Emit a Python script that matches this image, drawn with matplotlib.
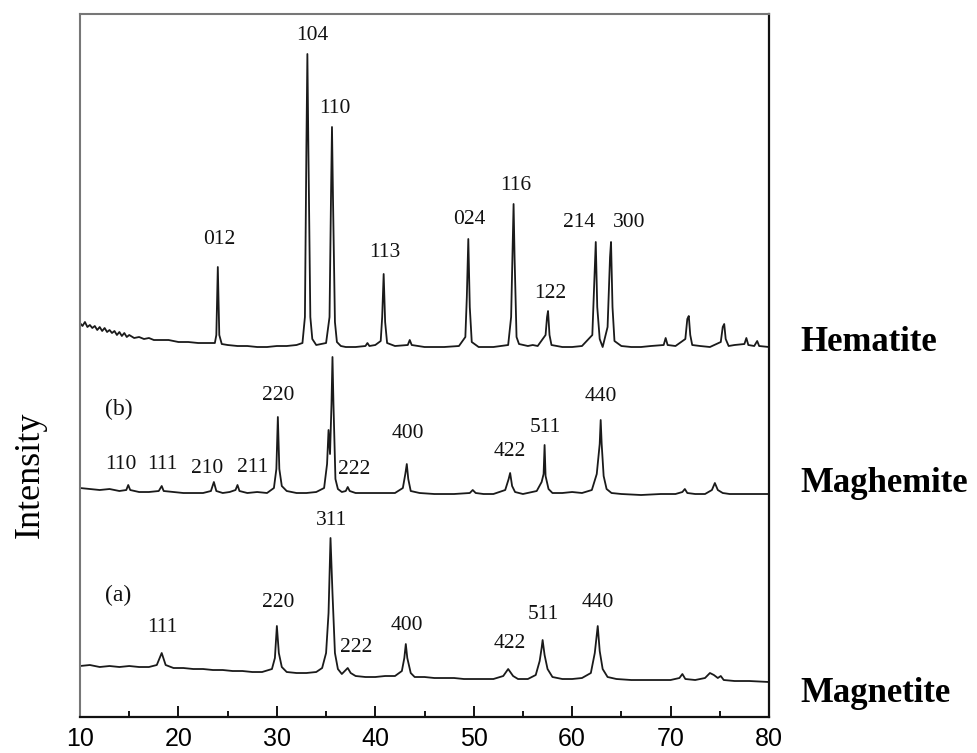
import matplotlib
matplotlib.use("Agg")
import matplotlib.pyplot as plt

# traces: 2-theta (deg) and intensity above each pattern's own baseline (a.u.)
hem_x = [10.0, 10.25, 10.5, 10.75, 11.0, 11.25, 11.5, 11.75, 12.0, 12.25, 12.5, 12.75, 13.0, 13.25, 13.5,
         13.75, 14.0, 14.25, 14.5, 14.75, 15.0, 15.5, 16.0, 16.5, 17.0, 17.5, 18.0, 19.0,
         20.0, 21.0, 22.0, 23.0, 23.7, 23.85, 24.0, 24.15, 24.4, 25.0, 26.0, 27.0, 28.0, 29.0, 30.0, 31.0,
         32.0, 32.6, 32.85, 33.0, 33.1, 33.2, 33.4, 33.6, 34.0, 34.5, 35.0, 35.35, 35.5, 35.6, 35.7, 35.9,
         36.1, 36.5, 37.0, 38.0, 39.0, 39.2, 39.4, 40.0, 40.55, 40.7, 40.85, 41.0, 41.2, 42.0, 43.3, 43.5,
         43.7, 45.0, 47.0, 48.5, 49.15, 49.3, 49.45, 49.6, 49.8, 50.5, 52.0, 53.5, 53.8, 53.95, 54.05, 54.15,
         54.35, 54.6, 55.5, 56.0, 56.5, 57.3, 57.45, 57.55, 57.7, 57.9, 59.0, 60.0, 61.0, 62.05, 62.3, 62.4,
         62.55, 62.8, 63.1, 63.6, 63.85, 63.95, 64.1, 64.3, 65.0, 66.0, 67.0, 68.0, 69.3, 69.5, 69.7, 70.5,
         71.5, 71.7, 71.85, 72.0, 72.2, 73.0, 74.0, 75.1, 75.3, 75.45, 75.6, 75.9, 76.5, 77.5, 77.7, 77.9,
         78.5, 78.8, 79.0, 80.0]
hem_y = [24, 21, 25, 20, 22, 19, 21, 17, 20, 16, 19, 15, 17, 14, 16,
         12, 15, 11, 14, 10, 12, 9, 10, 8, 9, 7, 7, 7,
         5, 5, 4, 4, 4, 12, 80, 12, 3, 2, 1, 1, 0, 0, 1, 1,
         2, 4, 30, 200, 293, 200, 30, 8, 2, 3, 4, 30, 150, 220, 150, 25,
         5, 1, 0, 0, 1, 4, 1, 2, 6, 30, 73, 25, 4, 1, 2, 7,
         2, 0, 0, 1, 10, 50, 108, 40, 5, 0, 0, 2, 30, 100, 143, 90,
         10, 3, 1, 2, 1, 12, 30, 36, 12, 2, 0, 0, 1, 12, 80, 105,
         40, 8, 0, 20, 90, 105, 40, 6, 1, 0, 0, 1, 2, 9, 2, 1,
         8, 28, 31, 12, 2, 1, 0, 5, 20, 23, 8, 1, 2, 3, 9, 2,
         1, 6, 1, 0]

mgh_x = [10.0, 11.0, 12.0, 13.0, 14.0, 14.7, 14.9, 15.1, 16.0, 17.0, 18.0, 18.3, 18.5, 19.5, 20.5, 21.5,
         22.5, 23.3, 23.6, 23.85, 24.5, 25.2, 25.8, 26.0, 26.2, 27.0, 28.0, 29.0, 29.7, 29.95, 30.1, 30.25,
         30.5, 31.0, 32.0, 33.0, 34.0, 34.8, 35.1, 35.25, 35.4, 35.55, 35.65, 35.75, 35.95, 36.2, 36.6, 37.0,
         37.2, 37.4, 38.0, 39.0, 40.0, 41.0, 42.0, 42.8, 43.05, 43.2, 43.35, 43.6, 44.5, 46.0, 48.0, 49.6,
         49.9, 50.2, 51.0, 52.0, 53.2, 53.55, 53.7, 53.9, 54.2, 55.0, 56.4, 56.9, 57.1, 57.2, 57.3, 57.6,
         58.0, 59.0, 60.0, 61.0, 62.0, 62.5, 62.8, 62.9, 63.0, 63.2, 63.5, 64.0, 65.0, 67.0, 69.0, 70.5,
         71.2, 71.45, 71.7, 72.5, 73.5, 74.2, 74.5, 74.8, 75.3, 76.0, 78.0, 80.0]
mgh_y = [6, 5, 4, 5, 3, 4, 9, 4, 2, 2, 3, 8, 3, 2, 1, 1,
         1, 3, 12, 3, 1, 2, 4, 9, 3, 1, 2, 1, 6, 25, 77, 25,
         8, 3, 1, 1, 2, 6, 30, 64, 40, 90, 137, 90, 15, 5, 2, 3,
         7, 3, 1, 1, 1, 1, 1, 6, 20, 30, 15, 3, 1, 0, 0, 1,
         4, 1, 0, 0, 4, 15, 21, 8, 2, 0, 3, 12, 20, 49, 18, 5,
         1, 1, 2, 1, 4, 20, 50, 74, 50, 18, 5, 1, 0, -1, 0, 0,
         2, 5, 1, 0, 0, 4, 11, 4, 1, 0, 0, 0]

mag_x = [10.0, 11.0, 12.0, 13.0, 14.0, 15.0, 16.0, 17.0, 17.8, 18.3, 18.7, 19.5, 20.5, 21.5, 22.5, 23.5,
         24.5, 25.5, 26.5, 27.5, 28.5, 29.5, 29.8, 30.0, 30.2, 30.5, 31.0, 32.0, 33.0, 34.0, 34.6, 35.0,
         35.25, 35.45, 35.65, 35.9, 36.2, 36.6, 37.0, 37.2, 37.5, 38.0, 39.0, 40.0, 41.0, 42.0, 42.7, 42.95,
         43.1, 43.25, 43.6, 44.0, 45.0, 46.0, 47.0, 48.0, 49.0, 50.0, 51.0, 52.0, 53.0, 53.5, 54.0, 54.5,
         55.5, 56.3, 56.7, 56.9, 57.0, 57.2, 57.5, 58.0, 59.0, 60.0, 61.0, 61.9, 62.3, 62.6, 62.8, 63.1,
         63.6, 64.5, 66.0, 68.0, 70.0, 70.9, 71.2, 71.5, 72.5, 73.5, 74.0, 74.4, 74.8, 75.1, 75.4, 76.5,
         78.0, 80.0]
mag_y = [7, 8, 6, 7, 6, 7, 6, 6, 8, 20, 8, 5, 5, 4, 4, 3,
         3, 2, 2, 1, 1, 4, 15, 47, 20, 6, 1, 0, 0, 1, 5, 20,
         60, 135, 80, 20, 4, -1, 3, 5, 0, -3, -4, -4, -3, -3, 2, 15,
         29, 15, 0, -4, -4, -5, -5, -5, -6, -6, -6, -6, -3, 4, -3, -6,
         -6, -2, 12, 25, 33, 18, 4, -4, -6, -6, -5, 0, 20, 47, 22, 4,
         -4, -6, -7, -7, -7, -5, -1, -6, -7, -5, 0, -2, -5, -3, -7, -8,
         -8, -9]

# Miller-index labels: text, 2-theta, height
hem_hkl = ["012", "104", "110", "113", "024", "116", "122", "214", "300"]
hem_lx = [24.1, 33.6, 35.9, 41.0, 49.6, 54.3, 57.75, 60.7, 65.8]
hem_ly = [478, 682, 609, 465, 498, 532, 424, 495, 495]

mgh_hkl = ["(b)", "110", "111", "210", "211", "220", "222", "400", "422", "511", "440"]
mgh_lx = [13.9, 14.2, 18.4, 22.9, 27.5, 30.1, 37.9, 43.3, 53.7, 57.3, 62.9]
mgh_ly = [308, 253, 253, 249, 250, 322, 248, 284, 266, 290, 321]

mag_hkl = ["311", "(a)", "111", "220", "222", "400", "422", "511", "440"]
mag_lx = [35.6, 13.9, 18.4, 30.1, 38.1, 43.2, 53.7, 57.1, 62.6]
mag_ly = [197, 122, 90, 115, 70, 92, 74, 103, 115]

names = ["Hematite", "Maghemite", "Magnetite"]

# vertical stacking of the three patterns
offsets = [370, 223, 44]

fig = plt.figure(figsize=(9.77, 7.53), dpi=100)
ax = fig.add_axes([0.0819, 0.0478, 0.7052, 0.9336])

serif = ["Liberation Serif", "DejaVu Serif"]
line_kw = dict(color="#1a1a1a", lw=1.3)

for xs, ys, off in zip([hem_x, mgh_x, mag_x], [hem_y, mgh_y, mag_y], offsets):
  ax.plot(xs, [v + off for v in ys], **line_kw)

for labels, lx, ly in [(hem_hkl, hem_lx, hem_ly), (mgh_hkl, mgh_lx, mgh_ly), (mag_hkl, mag_lx, mag_ly)]:
  for t, x, y in zip(labels, lx, ly):
    fs = 17 if t.startswith("(") else 15.5
    ax.text(x, y, t, ha="center", va="center", fontsize=fs, family=serif, color="#111")

ax.set_xlim(10, 80)
ax.set_ylim(0, 703)
ax.set_xticks(range(10, 81, 10))
ax.set_xticks(range(15, 80, 10), minor=True)
ax.set_yticks([])
ax.tick_params(axis="x", which="major", direction="in", length=8, width=1.3, pad=7,
               labelsize=18, labelfontfamily="Liberation Sans")
ax.tick_params(axis="x", which="minor", direction="in", length=4.5, width=1.3)

for side in ["left", "top"]:
  ax.spines[side].set_color("#777")
  ax.spines[side].set_linewidth(1.5)
for side in ["right", "bottom"]:
  ax.spines[side].set_color("#111")
  ax.spines[side].set_linewidth(1.6)

fig.text(30 / 977, 1 - 475 / 753, "Intensity", rotation=90, ha="center", va="center",
         fontsize=26, family=serif)

for name, py in zip(names, [342, 483, 693]):
  fig.text(800 / 977, 1 - py / 753, name, ha="left", va="center", fontsize=25,
           fontweight="bold", family=serif)

fig.savefig("out.png", dpi=100)
